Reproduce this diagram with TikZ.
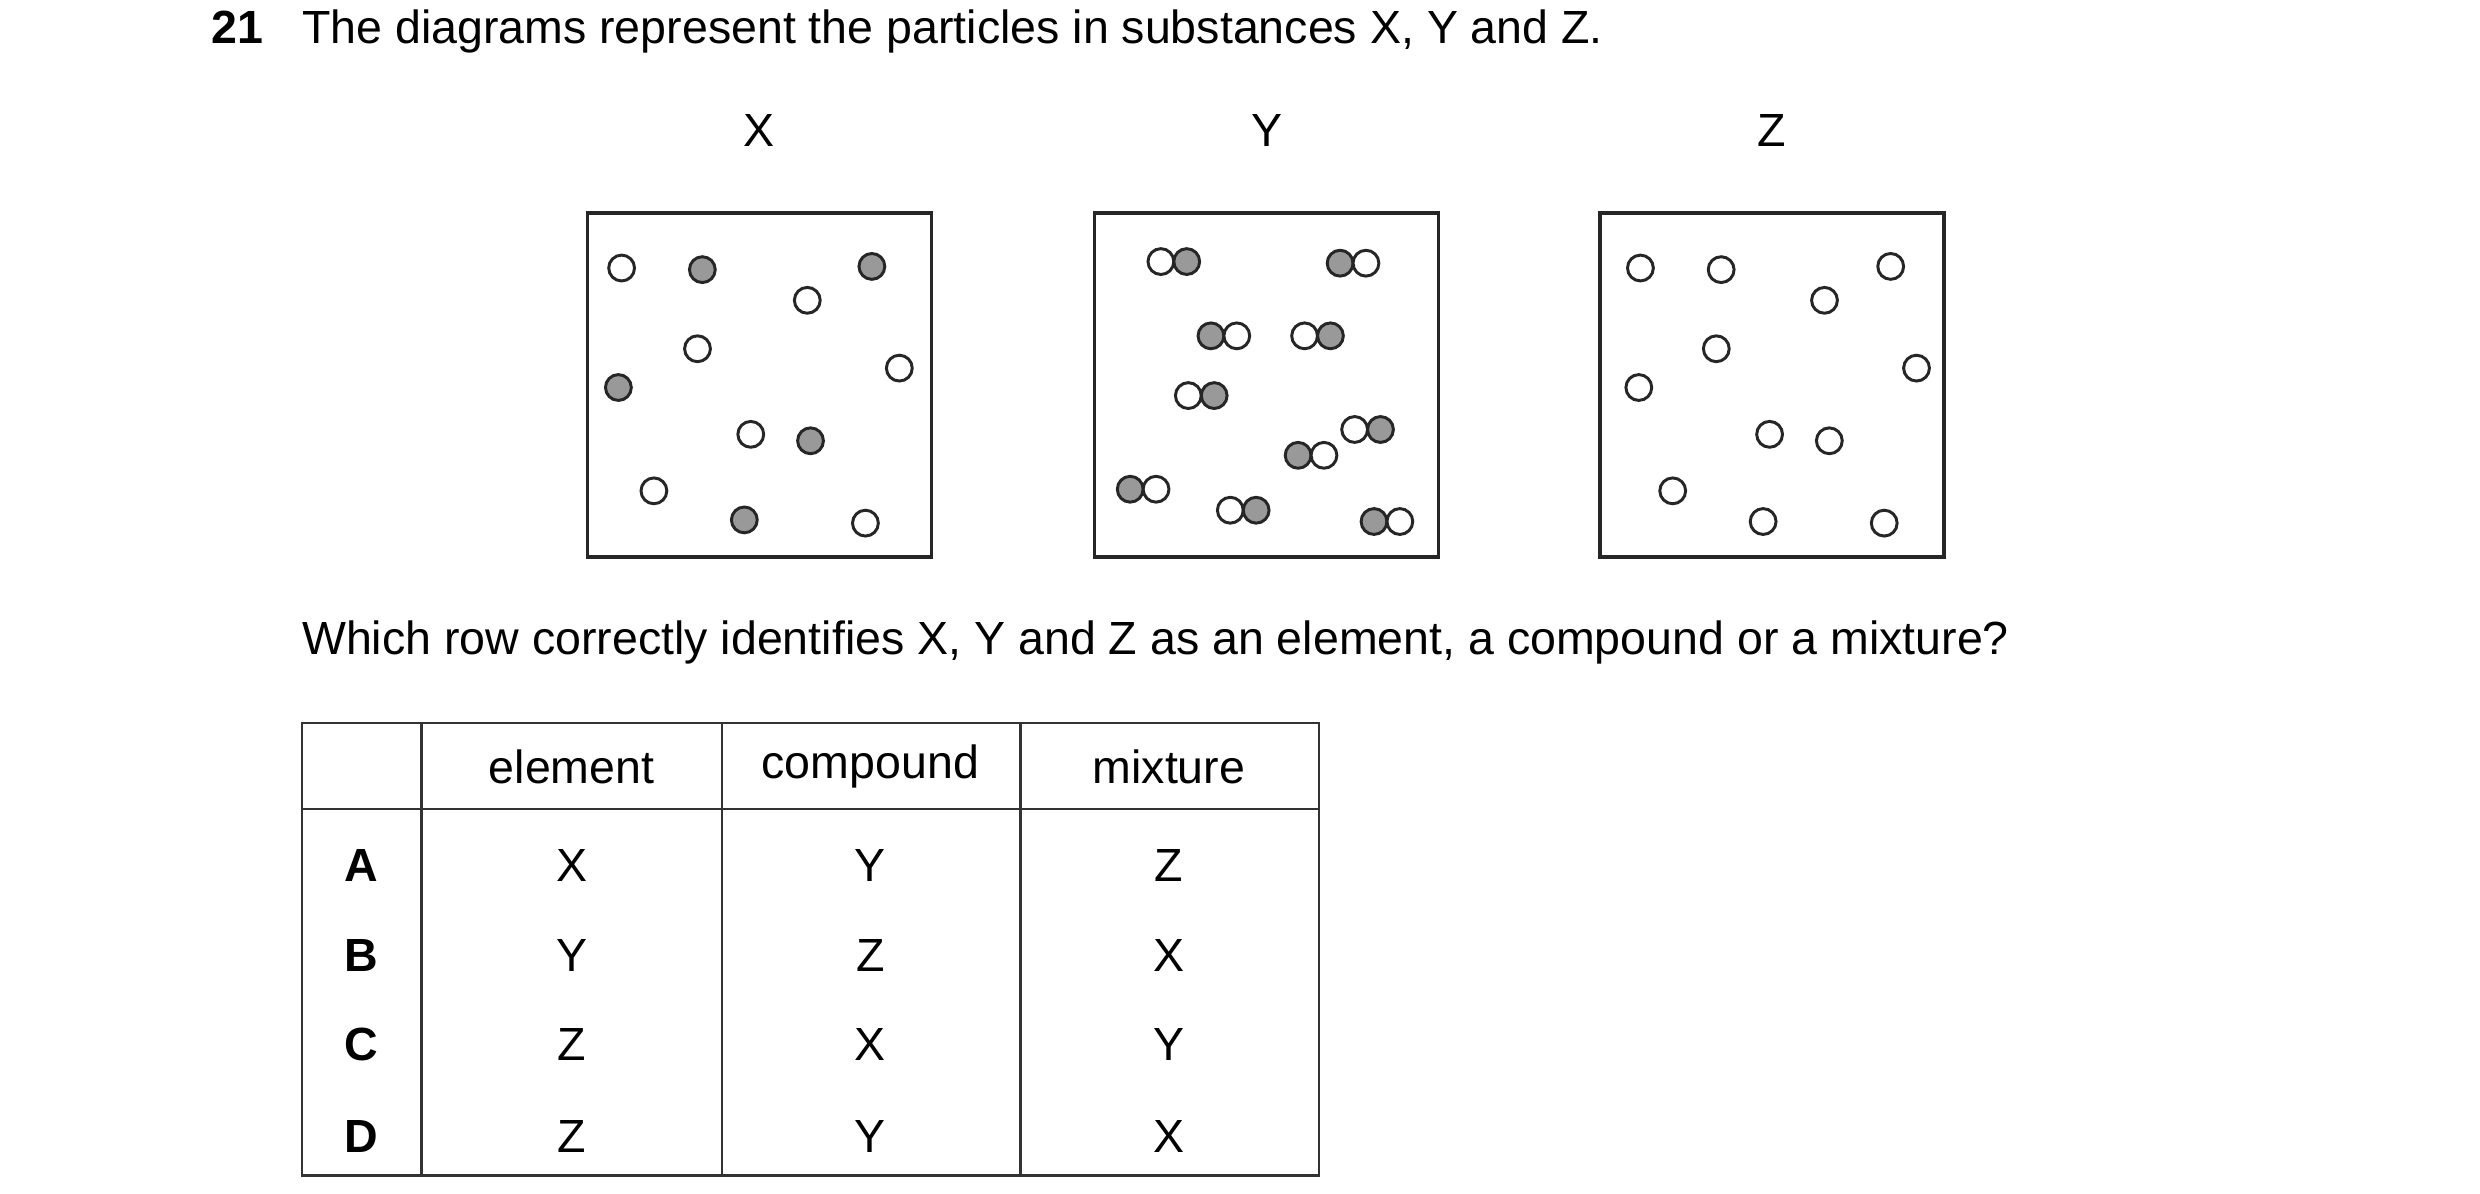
\documentclass[tikz,border=0pt]{standalone}
\usepackage{fontspec}
\setmainfont{Liberation Sans}
\begin{document}
\begin{tikzpicture}[x=0.05cm,y=-0.05cm,
  txt/.style={inner sep=0pt,font=\fontsize{41}{48}\selectfont},
  box/.style={draw=black!85,line width=2.9pt},
  w/.style={circle,draw=black!85,fill=white,line width=2.6pt,minimum size=0.8cm,inner sep=0pt},
  g/.style={w,fill=black!40},
  tl/.style={draw=black!80,line width=2pt}]
\useasboundingbox (0,0) rectangle (1536,739);
\node[txt,anchor=base west,font=\fontsize{41}{48}\selectfont\bfseries] (num) at (131,27) {21};
\node[txt,anchor=base west] (title) at (187,27) {The diagrams represent the particles in substances X, Y and Z.};
\node[txt] (lx) at (470,81) {X};
\node[txt] (ly) at (785,81) {Y};
\node[txt] (lz) at (1097,81) {Z};
\draw[box] (364,132) rectangle (577,345);
\draw[box] (678,132) rectangle (891,345);
\draw[box] (991,132) rectangle (1204,345);
% X
\foreach \s/\x/\y [count=\i] in {w/385/166,g/435/167,g/540/165,w/500/186,w/432/216,g/383/240,w/557/228,w/465/269,g/502/273,w/405/304,g/461/322,w/536/324}
  \node[\s] (x\i) at (\x,\y) {};
% Z
\foreach \x/\y [count=\i] in {1016/166,1066/167,1171/165,1130/186,1063/216,1015/240,1187/228,1096/269,1133/273,1036/304,1092/323,1167/324}
  \node[w] (z\i) at (\x,\y) {};
% Y
\foreach \a/\b/\x/\y [count=\i] in {w/g/719/162,g/w/830/163,g/w/750/208,w/g/808/208,w/g/736/245,w/g/839/266,g/w/804/282,g/w/700/303,w/g/762/316,g/w/851/323}{
  \node[\a] (ya\i) at (\x,\y) {};
  \node[\b] (yb\i) at (\x+16,\y) {};
}
\node[txt,anchor=west] (q) at (187,398) {Which row correctly identifies X, Y and Z as an element, a compound or a mixture?};
% table
\draw[tl] (187,448) rectangle (817,728);
\draw[tl] (187,501) -- (817,501);
\foreach \xx in {261,447,632} \draw[tl] (\xx,448) -- (\xx,728);
\node[txt] (h1) at (354,475) {element};
\node[txt] (h2) at (539,475) {compound};
\node[txt] (h3) at (724,475) {mixture};
\foreach \L/\p/\q/\r/\y in {A/X/Y/Z/536,B/Y/Z/X/592,C/Z/X/Y/647,D/Z/Y/X/704}{
  \node[txt,font=\fontsize{41}{48}\selectfont\bfseries] (r\L) at (224,\y) {\L};
  \node[txt] (e\L) at (354,\y) {\p};
  \node[txt] (c\L) at (539,\y) {\q};
  \node[txt] (m\L) at (724,\y) {\r};
}
\end{tikzpicture}
\end{document}
